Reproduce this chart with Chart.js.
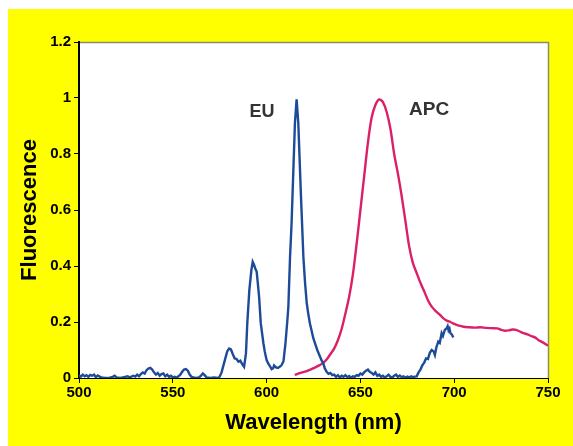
<!DOCTYPE html>
<html>
<head>
<meta charset="utf-8">
<script src="https://cdn.jsdelivr.net/npm/chart.js@4/dist/chart.umd.min.js"></script>
<style>
  html, body { margin: 0; padding: 0; background: #ffffff; }
  #wrap { position: absolute; left: 0; top: 0; width: 573px; height: 446px; }
</style>
</head>
<body>
<div id="wrap"><canvas id="c" width="573" height="446"></canvas></div>
<script>
// ---- data ----
const euWavelength = [500,501,502,503,504,505,506,507,508,509,510,511,512,514,516,518,519,520,522,524,526,527,529,530,531,532,533,534,535,536,537,538,539,540,541,542,543,544,545,546,547,548,549,550,551,552,553,554,555,556,557,558,559,560,561,562,564,565,566,567,568,570,572,574,575,576,577,578,579,580,581,582,583,584,585,586,587,588,589,589.7,590.8,591.9,592.6,593.3,594,594.7,595.3,596,596.9,598.3,599,600,601,602,602.7,603.5,604,605,606,607,608,609,610,611,611.6,612.5,613.3,613.9,615.1,616,616.9,617.5,618.2,619.6,620.5,621.4,622.2,623.1,624.9,626,627,628.5,629.5,630.2,631,632,633,634,635,636,637,638,639,640,641,642,643,644,645,646,647,648,649,650,651,652,653,654,655,656,657,658,659,660,661,662,663,664,665,666,667,668,669,670,671,672,673,674,675,676,677,678,679,680,681,682,683,684,685,686,687,688,689,689.7,690.5,691.5,692.3,693.3,694,695,696,696.5,697,697.5,698,698.8,699.5];
const euFluorescence = [0.010,0.005,0.012,0.006,0.010,0.004,0.011,0.008,0.012,0.003,0.009,0.005,0.002,0.000,0.000,0.004,0.008,0.002,0.000,0.003,0.006,0.002,0.008,0.005,0.012,0.006,0.014,0.020,0.016,0.028,0.034,0.036,0.030,0.020,0.012,0.018,0.008,0.014,0.016,0.006,0.012,0.004,0.008,0.002,0.004,0.001,0.006,0.012,0.022,0.030,0.032,0.026,0.012,0.004,0.002,0.000,0.002,0.008,0.016,0.010,0.002,0.000,0.002,0.000,0.005,0.020,0.045,0.070,0.095,0.105,0.102,0.085,0.070,0.068,0.058,0.062,0.050,0.040,0.088,0.195,0.314,0.386,0.415,0.405,0.390,0.380,0.340,0.290,0.195,0.124,0.095,0.064,0.050,0.040,0.032,0.035,0.045,0.038,0.036,0.040,0.046,0.060,0.120,0.200,0.255,0.433,0.550,0.670,0.910,0.995,0.910,0.800,0.670,0.433,0.340,0.267,0.230,0.195,0.142,0.120,0.100,0.076,0.060,0.053,0.035,0.022,0.015,0.018,0.010,0.012,0.004,0.010,0.002,0.008,0.004,0.010,0.003,0.007,0.001,0.006,0.004,0.010,0.008,0.016,0.012,0.020,0.026,0.030,0.022,0.018,0.012,0.020,0.008,0.012,0.004,0.008,0.002,0.006,0.012,0.004,0.002,0.008,0.012,0.004,0.009,0.003,0.006,0.001,0.005,0.002,0.006,0.003,0.005,0.006,0.020,0.030,0.045,0.055,0.070,0.068,0.090,0.100,0.095,0.082,0.110,0.130,0.125,0.160,0.150,0.172,0.178,0.185,0.170,0.176,0.160,0.155,0.145];

const apcWavelength = [615,618,621,623,626,628,630,632,634,636,638,640,642,644,646,648,650,652,654,656,658,660,662,664,666,668,670,672,674,676,678,680,682,684,686,688,690,692,694,696,698,700,702,705,708,711,714,717,720,723,725,727,729,731,733,735,737,739,741,743,745,747,749,750];
const apcFluorescence = [0.011,0.018,0.024,0.029,0.038,0.045,0.053,0.066,0.085,0.105,0.135,0.175,0.230,0.290,0.370,0.480,0.600,0.720,0.840,0.930,0.975,0.995,0.985,0.950,0.890,0.800,0.730,0.650,0.560,0.470,0.410,0.375,0.340,0.310,0.278,0.255,0.240,0.228,0.215,0.205,0.200,0.193,0.188,0.183,0.181,0.180,0.181,0.179,0.178,0.177,0.172,0.169,0.170,0.173,0.172,0.166,0.160,0.156,0.150,0.145,0.135,0.128,0.120,0.115];

const seriesNames = ['EU', 'APC'];
const labelWavelength = [597.6, 686.6];
const labelFluorescence = [0.951, 0.957];

const xTicks = [500, 550, 600, 650, 700, 750];
const yTicks = [0, 0.2, 0.4, 0.6, 0.8, 1, 1.2];
const xTitle = 'Wavelength (nm)';
const yTitle = 'Fluorescence';

// ---- chart ----
const FONT = '"Liberation Sans", Arial, sans-serif';
const toPts = (xs, ys) => xs.map((x, i) => ({ x: x, y: ys[i] }));

const backgroundPlugin = {
  id: 'bg',
  beforeDraw(chart) {
    const { ctx, chartArea: a } = chart;
    ctx.save();
    ctx.fillStyle = '#ffffff';
    ctx.fillRect(0, 0, chart.width, chart.height);
    ctx.fillStyle = '#ffff00';
    ctx.fillRect(8, 9, chart.width - 8, chart.height - 9);
    ctx.fillStyle = '#ffffff';
    ctx.fillRect(a.left, a.top, a.right - a.left, a.bottom - a.top);
    ctx.strokeStyle = '#8c8c6e';
    ctx.lineWidth = 1.5;
    ctx.beginPath();
    ctx.moveTo(a.left, a.top + 0.5);
    ctx.lineTo(a.right + 0.5, a.top + 0.5);
    ctx.lineTo(a.right + 0.5, a.bottom);
    ctx.stroke();
    ctx.restore();
  }
};

const seriesLabelPlugin = {
  id: 'seriesLabels',
  afterDatasetsDraw(chart) {
    const { ctx, scales } = chart;
    ctx.save();
    ctx.fillStyle = '#333333';
    ctx.textAlign = 'center';
    ctx.textBaseline = 'middle';
    seriesNames.forEach((name, i) => {
      ctx.font = 'bold ' + (i === 0 ? 18 : 19) + 'px ' + FONT;
      ctx.fillText(name, scales.x.getPixelForValue(labelWavelength[i]), scales.y.getPixelForValue(labelFluorescence[i]));
    });
    ctx.restore();
  }
};

new Chart(document.getElementById('c'), {
  type: 'line',
  data: {
    datasets: [
      { label: seriesNames[0], data: toPts(euWavelength, euFluorescence), borderColor: '#1d4b98', borderWidth: 2.4, pointRadius: 0, tension: 0, fill: false },
      { label: seriesNames[1], data: toPts(apcWavelength, apcFluorescence), borderColor: '#dc2068', borderWidth: 2.4, pointRadius: 0, tension: 0.3, fill: false }
    ]
  },
  options: {
    responsive: false,
    animation: false,
    devicePixelRatio: 1,
    layout: { padding: { left: 0, top: 42, right: 25, bottom: 0 } },
    plugins: { legend: { display: false }, tooltip: { enabled: false } },
    scales: {
      x: {
        type: 'linear', min: 500, max: 750,
        afterFit(s) { s.height = 68; },
        afterBuildTicks(s) { s.ticks = xTicks.map(v => ({ value: v })); },
        border: { display: true, color: '#000000', width: 1 },
        grid: { drawOnChartArea: false, drawTicks: true, tickLength: 5, color: '#000000' },
        ticks: { color: '#000000', font: { family: FONT, size: 15, weight: 'bold' }, padding: 1, maxRotation: 0 },
        title: { display: true, text: xTitle, color: '#000000', font: { family: FONT, size: 22, weight: 'bold' }, padding: { top: 0, bottom: 10 } }
      },
      y: {
        type: 'linear', min: 0, max: 1.2,
        afterFit(s) { s.width = 79; },
        afterBuildTicks(s) { s.ticks = yTicks.map(v => ({ value: v })); },
        border: { display: true, color: '#000000', width: 2 },
        grid: { drawOnChartArea: false, drawTicks: true, tickLength: 5, color: '#000000' },
        ticks: { color: '#000000', font: { family: FONT, size: 15, weight: 'bold' }, padding: 3, callback: v => String(+v.toFixed(1)) },
        title: { display: true, text: yTitle, color: '#000000', font: { family: FONT, size: 22, weight: 'bold' }, padding: { top: 17, bottom: 0 } }
      }
    }
  },
  plugins: [backgroundPlugin, seriesLabelPlugin]
});
</script>
</body>
</html>
